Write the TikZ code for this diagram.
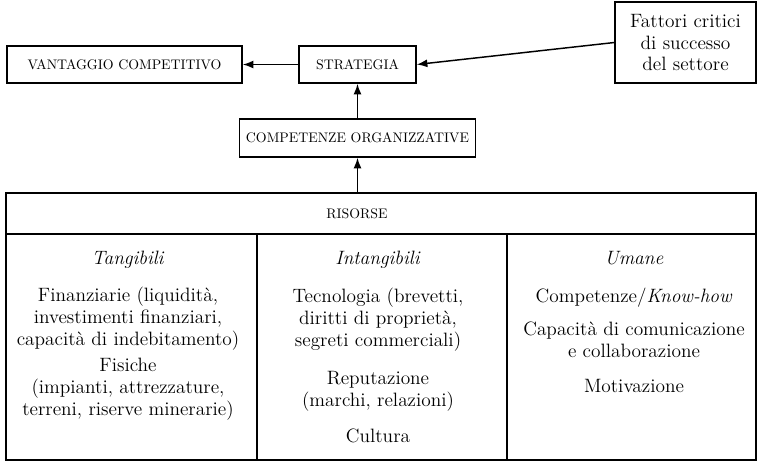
\documentclass[tikz,border=0pt]{standalone}
\usetikzlibrary{arrows.meta,positioning}
\tikzset{
  box/.style={draw, line width=1.1pt, inner sep=0pt, font=\fontsize{10.4}{12}\selectfont},
  arr/.style={-{Latex[length=8pt,width=6pt]}, line width=1.1pt},
  txt/.style={align=center, inner sep=0pt, anchor=north, font=\fontsize{14.5}{16.5}\selectfont},
}
\begin{document}
\begin{tikzpicture}
  \useasboundingbox (0,0) rectangle (19.986,12.340);
  % top row
  \node[box, minimum width=6.196cm, minimum height=0.976cm] (vant) at (3.283,10.639) {VANTAGGIO COMPETITIVO};
  \node[box, minimum width=3.085cm, minimum height=0.976cm] (strat) at (9.426,10.639) {STRATEGIA};
  \node[box, align=center, font=\fontsize{14.5}{16}\selectfont,
        minimum width=3.718cm, minimum height=2.136cm] (fatt) at (18.075,11.219) {Fattori critici\\di successo\\del settore};
  % competenze
  \node[box, minimum width=6.223cm, minimum height=1.002cm] (comp) at (9.426,8.701) {COMPETENZE ORGANIZZATIVE};
  % risorse table
  \draw[line width=1.1pt] (0.158,0.211) rectangle (19.934,7.251);
  \draw[line width=1.1pt] (0.158,6.170) -- (19.934,6.170);
  \foreach \x in {6.776,13.368} {
      \draw[line width=1.1pt] (\x,0.211) -- (\x,6.170);
  }
  \node[font=\fontsize{10.4}{12}\selectfont, inner sep=0pt] (ris) at (9.413,6.710) {RISORSE};
  \coordinate (ristop) at (9.426,7.251);
  % tangibili
  \node[txt] (tang) at (3.375,5.722) {\textit{Tangibili}};
  \node[txt] (tang1) at (3.375,4.772) {Finanziarie (liquidità,\\investimenti finanziari,\\capacità di indebitamento)};
  \node[txt] (tang2) at (3.375,2.900) {Fisiche\\(impianti, attrezzature,\\terreni, riserve minerarie)};
  % intangibili
  \node[txt] (intang) at (9.967,5.722) {\textit{Intangibili}};
  \node[txt] (intang1) at (9.967,4.746) {Tecnologia (brevetti,\\diritti di proprietà,\\segreti commerciali)};
  \node[txt] (intang2) at (9.967,2.558) {Reputazione\\(marchi, relazioni)};
  \node[txt] (intang3) at (9.967,1.028) {Cultura};
  % umane
  \node[txt] (uma) at (16.717,5.722) {\textit{Umane}};
  \node[txt] (uma1) at (16.717,4.746) {Competenze/\textit{Know-how}};
  \node[txt] (uma2) at (16.717,3.850) {Capacità di comunicazione\\e collaborazione};
  \node[txt] (uma3) at (16.717,2.347) {Motivazione};
  % arrows
  \draw[arr] (strat) -- (vant);
  \draw[arr] (fatt.west) -- (strat.east);
  \draw[arr] (comp) -- (strat);
  \draw[arr] (ristop) -- (comp);
\end{tikzpicture}
\end{document}
